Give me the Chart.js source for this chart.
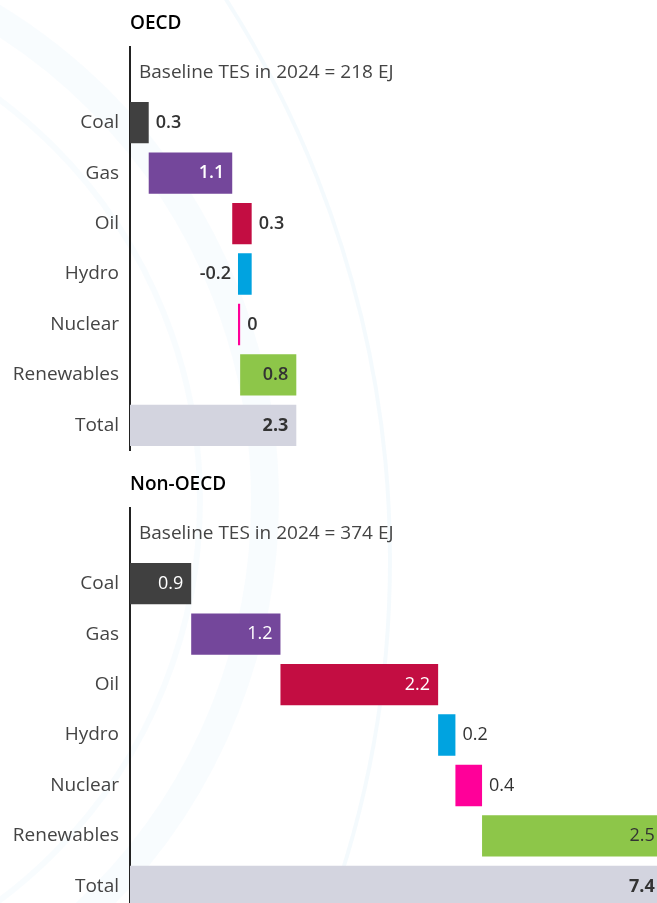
<!DOCTYPE html>
<html>
<head>
<meta charset="utf-8">
<script src="https://cdn.jsdelivr.net/npm/chart.js@4.4.1/dist/chart.umd.min.js"></script>
<style>
  html, body { margin: 0; padding: 0; background: #fff; overflow: hidden; }
  body { width: 657px; height: 903px; position: relative; }
  .panel { position: absolute; left: 0; width: 657px; height: 473px; }
</style>
</head>
<body>
<div class="panel" style="top:0"><canvas id="chartOecd"></canvas></div>
<div class="panel" style="top:461px"><canvas id="chartNonOecd"></canvas></div>
<script>
// categories (first row is left empty for the baseline note)
const categories = ['', 'Coal', 'Gas', 'Oil', 'Hydro', 'Nuclear', 'Renewables', 'Total'];

// changes in EJ
const oecdChanges = [0.26, 1.16, 0.27, -0.19, 0.03, 0.78];
const nonOecdChanges = [0.85, 1.24, 2.19, 0.24, 0.37, 2.51];

// value labels as printed
const oecdLabels = ['0.3', '1.1', '0.3', '-0.2', '0', '0.8', '2.3'];
const nonOecdLabels = ['0.9', '1.2', '2.2', '0.2', '0.4', '2.5', '7.4'];

const barColors = ['#404040', '#74479b', '#c30d42', '#00a3e0', '#ff0099', '#8dc649', '#d3d4df'];
const insideTextColors = ['#fff', '#fff', '#fff', '#fff', '#fff', '#333', '#333'];

const FONT = '"Open Sans", "Noto Sans", sans-serif';

// floating bars: each change starts where the previous one ended, total from zero
function waterfall(changes) {
  let run = 0;
  const out = [null];
  changes.forEach(v => { out.push([run, run + v]); run += v; });
  out.push([0, run]);
  return out;
}

// faint decorative arcs behind the charts
const arcsBg = {
  id: 'arcsBg',
  beforeDraw(chart, args, opts) {
    const ctx = chart.ctx;
    const dy = opts.offset || 0;
    ctx.save();
    ctx.beginPath();
    ctx.rect(0, 0, chart.width, opts.clipHeight);
    ctx.clip();
    ctx.strokeStyle = 'rgba(0,150,220,0.045)';
    ctx.lineWidth = 4;
    ctx.beginPath(); ctx.arc(-649, 560 - dy, 1039, 0, Math.PI * 2); ctx.stroke();
    ctx.lineWidth = 28;
    ctx.strokeStyle = 'rgba(0,150,220,0.028)';
    ctx.beginPath(); ctx.arc(-300, 500 - dy, 565, 0, Math.PI * 2); ctx.stroke();
    ctx.lineWidth = 6;
    ctx.beginPath(); ctx.arc(-300, 500 - dy, 500, 0, Math.PI * 2); ctx.stroke();
    ctx.restore();
  }
};

// panel title and baseline note
const panelText = {
  id: 'panelText',
  afterDraw(chart, args, opts) {
    const ctx = chart.ctx;
    const area = chart.chartArea;
    ctx.save();
    ctx.textBaseline = 'middle';
    ctx.textAlign = 'left';
    ctx.fillStyle = '#000';
    ctx.font = '600 19px ' + FONT;
    ctx.fillText(opts.title, area.left, area.top - 23);
    ctx.fillStyle = '#444';
    ctx.font = '400 19px ' + FONT;
    ctx.fillText(opts.note, area.left + 9, chart.scales.y.getPixelForValue(0));
    ctx.restore();
  }
};

// value labels: inside the bar when wide enough, otherwise beside its end
const valueLabels = {
  id: 'valueLabels',
  afterDatasetsDraw(chart, args, opts) {
    const ctx = chart.ctx;
    const meta = chart.getDatasetMeta(0);
    const raw = chart.data.datasets[0].data;
    ctx.save();
    ctx.textBaseline = 'middle';
    meta.data.forEach((el, i) => {
      if (i === 0) return;
      const k = i - 1;
      const text = opts.labels[k];
      const left = Math.min(el.x, el.base);
      const right = Math.max(el.x, el.base);
      const negative = raw[i][1] < raw[i][0];
      const isTotal = k === opts.labels.length - 1;
      ctx.font = (isTotal ? 700 : opts.weight) + ' 18px ' + FONT;
      if (right - left > 45) {
        ctx.fillStyle = insideTextColors[k];
        ctx.textAlign = 'right';
        ctx.fillText(text, right - 8, el.y);
      } else if (negative) {
        ctx.fillStyle = '#333';
        ctx.textAlign = 'right';
        ctx.fillText(text, left - 7, el.y);
      } else {
        ctx.fillStyle = '#333';
        ctx.textAlign = 'left';
        ctx.fillText(text, right + 7, el.y);
      }
    });
    ctx.restore();
  }
};

function makeChart(id, changes, labels, title, note, weight, offset) {
  new Chart(document.getElementById(id), {
    type: 'bar',
    data: {
      labels: categories,
      datasets: [{
        data: waterfall(changes),
        backgroundColor: ['transparent'].concat(barColors),
        borderWidth: 0,
        borderSkipped: false,
        barPercentage: 0.82,
        categoryPercentage: 1
      }]
    },
    options: {
      indexAxis: 'y',
      responsive: true,
      maintainAspectRatio: false,
      animation: false,
      layout: { padding: { top: 47, bottom: 0, left: 0, right: 0 } },
      plugins: {
        legend: { display: false },
        tooltip: { enabled: false },
        arcsBg: { offset: offset, clipHeight: 461 },
        panelText: { title: title, note: note },
        valueLabels: { labels: labels, weight: weight }
      },
      scales: {
        x: { display: false, min: 0, max: 7.32 },
        y: {
          grid: { display: false, drawTicks: false },
          border: { display: true, color: '#222', width: 2 },
          ticks: { color: '#444', padding: 11, autoSkip: false, font: { family: FONT, size: 19 } },
          afterFit: s => { s.width = 130; }
        }
      }
    },
    plugins: [arcsBg, panelText, valueLabels]
  });
}

makeChart('chartOecd', oecdChanges, oecdLabels, 'OECD', 'Baseline TES in 2024 = 218 EJ', 600, 0);
makeChart('chartNonOecd', nonOecdChanges, nonOecdLabels, 'Non-OECD', 'Baseline TES in 2024 = 374 EJ', 400, 461);
</script>
</body>
</html>
